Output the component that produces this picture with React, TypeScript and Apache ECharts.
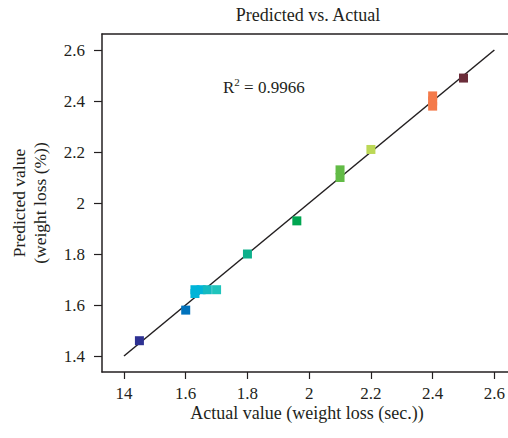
import React, { useEffect, useRef } from "react";
import * as echarts from "echarts";

const actualValues = [1.45, 1.6, 1.63, 1.63, 1.65, 1.67, 1.7, 1.8, 1.96, 2.1, 2.1, 2.2, 2.4, 2.4, 2.4, 2.5];
const predictedValues = [1.46, 1.58, 1.645, 1.66, 1.66, 1.66, 1.66, 1.8, 1.93, 2.13, 2.1, 2.21, 2.42, 2.4, 2.38, 2.49];
const pointColors = [
  "#2e3192", "#0072bc", "#00b4d8", "#00b4d8", "#00b4d8", "#14bac0", "#20c4bc",
  "#0db08b", "#00a651", "#62bb46", "#62bb46", "#bcd856", "#f47a4a", "#f47a4a", "#f47a4a", "#6b2d3a",
];
const fitLine = [[1.4, 1.4], [2.6, 2.6]];
const xTickValues = [1.4, 1.6, 1.8, 2.0, 2.2, 2.4, 2.6];
const xTickLabels = ["14", "1.6", "1.8", "2", "2.2", "2.4", "2.6"];
const yTickValues = [1.4, 1.6, 1.8, 2.0, 2.2, 2.4, 2.6];
const yTickLabels = ["1.4", "1.6", "1.8", "2", "2.2", "2.4", "2.6"];

const FONT = "'Liberation Serif', 'DejaVu Serif', serif";
const INK = "#231f20";

function labelFor(values: number[], labels: string[], v: number) {
  for (let i = 0; i < values.length; i++) {
    if (Math.abs(values[i] - v) < 1e-6) return labels[i];
  }
  return "";
}

export default function App() {
  const ref = useRef<HTMLDivElement>(null);
  useEffect(() => {
    if (!ref.current) return;
    const chart = echarts.init(ref.current, null, { renderer: "svg" });
    const points = actualValues.map((x, i) => ({
      value: [x, predictedValues[i]],
      itemStyle: { color: pointColors[i], opacity: 1 },
    }));
    const X_MIN = 1.3288;
    const X_MAX = 2.6427;
    chart.setOption({
      animation: false,
      backgroundColor: "#ffffff",
      grid: {
        left: 102,
        top: 34,
        width: 406,
        height: 338,
        show: false,
      },
      xAxis: [
        {
          type: "value",
          min: X_MIN,
          max: X_MAX,
          splitLine: { show: false },
          axisLine: { show: true, onZero: false, lineStyle: { color: INK, width: 1.5 } },
          axisTick: { show: true, length: 7, customValues: xTickValues, lineStyle: { color: INK, width: 1.2 } },
          axisLabel: {
            customValues: xTickValues,
            formatter: (v: number) => labelFor(xTickValues, xTickLabels, v),
            color: INK,
            fontFamily: FONT,
            fontSize: 17,
            lineHeight: 17,
            margin: 13,
          },
        },
        {
          type: "value",
          position: "top",
          min: X_MIN,
          max: X_MAX,
          splitLine: { show: false },
          axisLine: { show: true, onZero: false, lineStyle: { color: INK, width: 1.5 } },
          axisTick: { show: false },
          axisLabel: { show: false },
        },
      ],
      yAxis: {
        type: "value",
        min: 1.3373,
        max: 2.6628,
        splitLine: { show: false },
        axisLine: { show: true, onZero: false, lineStyle: { color: INK, width: 1.5 } },
        axisTick: { show: true, length: 8, customValues: yTickValues, lineStyle: { color: INK, width: 1.2 } },
        axisLabel: {
          customValues: yTickValues,
          formatter: (v: number) => labelFor(yTickValues, yTickLabels, v),
          color: INK,
          fontFamily: FONT,
          fontSize: 17,
          margin: 17,
        },
      },
      series: [
        {
          type: "line",
          data: fitLine,
          symbol: "none",
          lineStyle: { color: INK, width: 1.5 },
          z: 2,
        },
        {
          type: "scatter",
          data: points,
          symbol: "rect",
          symbolSize: 9,
          z: 3,
        },
      ],
      graphic: [
        {
          type: "text",
          x: 308,
          y: 15,
          style: {
            text: "Predicted vs. Actual",
            fill: INK,
            font: `18px ${FONT}`,
            textAlign: "center",
            textVerticalAlign: "middle",
          },
        },
        {
          type: "text",
          x: 307,
          y: 413,
          style: {
            text: "Actual value (weight loss (sec.))",
            fill: INK,
            font: `18px ${FONT}`,
            lineHeight: 18,
            textAlign: "center",
            textVerticalAlign: "middle",
          },
        },
        {
          type: "text",
          x: 29,
          y: 203,
          rotation: Math.PI / 2,
          style: {
            text: "Predicted value\n(weight loss (%))",
            fill: INK,
            font: `17.5px ${FONT}`,
            lineHeight: 21,
            textAlign: "center",
            textVerticalAlign: "middle",
          },
        },
        {
          type: "text",
          x: 223,
          y: 86,
          style: {
            text: "{r|R}{s|2}{r| = 0.9966}",
            textVerticalAlign: "middle",
            rich: {
              r: { fontFamily: FONT, fontSize: 17, fill: INK, color: INK, lineHeight: 20, verticalAlign: "bottom" },
              s: { fontFamily: FONT, fontSize: 11, fill: INK, color: INK, lineHeight: 20, verticalAlign: "top" },
            },
          },
        },
      ],
    });
    return () => chart.dispose();
  }, []);
  return (
    <div
      ref={ref}
      style={{ position: "fixed", left: 0, top: 0, width: 508, height: 438, background: "#fff" }}
    />
  );
}
